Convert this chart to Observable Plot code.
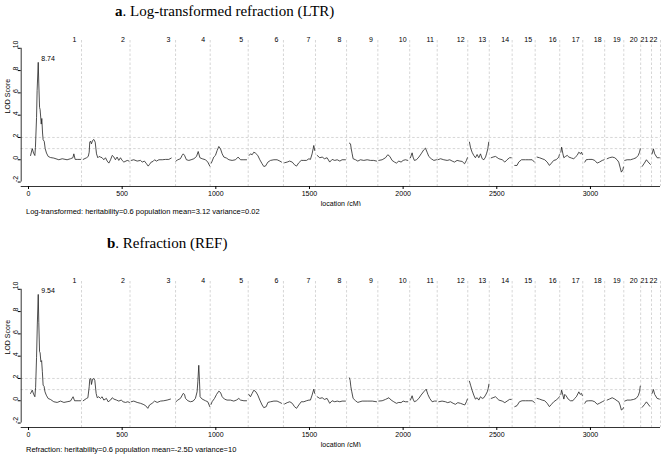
<!DOCTYPE html>
<html><head><meta charset="utf-8">
<script src="https://cdn.jsdelivr.net/npm/d3@7"></script>
<script src="https://cdn.jsdelivr.net/npm/@observablehq/plot@0.6"></script>
<style>
html,body{margin:0;padding:0;background:#fff;}
body{width:665px;height:463px;position:relative;overflow:hidden;font-family:"Liberation Sans",Arial,sans-serif;}
.title{position:absolute;font-family:"Liberation Serif","Times New Roman",serif;font-size:15px;line-height:15px;color:#000;white-space:nowrap;}
.caption{position:absolute;left:26px;font-size:7.5px;line-height:8px;color:#000;white-space:nowrap;}
.panel{position:absolute;left:0;}
.panel svg{display:block;}
</style></head><body>
<div class="title" style="left:115px;top:3.5px"><b>a</b>. Log-transformed refraction (LTR)</div>
<div class="panel" id="pa" style="top:24px"></div>
<div class="caption" style="top:207.7px">Log-transformed: heritability=0.6 population mean=3.12 variance=0.02</div>
<div class="title" style="left:107px;top:235.5px"><b>b</b>. Refraction (REF)</div>
<div class="panel" id="pb" style="top:265px"></div>
<div class="caption" style="top:446px">Refraction: heritability=0.6 population mean=-2.5D variance=10</div>
<script>
const chromosomes = ["1","2","3","4","5","6","7","8","9","10","11","12","13","14","15","16","17","18","19","20","21","22"];
const chromEnds = [283,542,785,970,1173,1361,1532,1698,1865,2035,2182,2345,2460,2582,2705,2836,2959,3076,3178,3268,3326,3374];
const xTicks = [0,500,1000,1500,2000,2500,3000];
const yTicks = [-2,0,2,4,6,8,10];
const thresholds = [1,2];

const ltrLocation = [
 11,20,27,34,37,43,46,52,55,59,62,68,71,75,78,84,89,96,105,117,135,162,180,206,224,237,242,249,263,278,
 292,310,319,324,327,331,336,342,349,356,363,370,377,384,393,402,411,420,429,438,447,456,464,473,482,491,500,509,527,537,
 548,562,580,598,607,619,630,639,646,655,665,673,683,696,714,731,749,762,
 787,797,811,820,826,833,843,856,868,883,897,906,915,927,945,957,968,
 976,989,998,1007,1016,1025,1034,1043,1057,1070,1087,1105,1119,1132,1150,1164,
 1178,1185,1194,1203,1212,1224,1235,1247,1256,1265,1278,1292,1310,1327,1342,1351,
 1367,1381,1394,1408,1420,1431,1443,1456,1470,1484,1497,1505,1514,1523,1528,
 1541,1555,1568,1580,1594,1608,1621,1635,1648,1662,1674,1692,
 1713,1719,1723,1728,1733,1746,1758,1772,1790,1808,1826,1843,1858,
 1870,1888,1906,1918,1929,1941,1954,1964,1977,1989,2000,2012,2025,
 2039,2048,2053,2060,2071,2084,2096,2110,2119,2128,2137,2150,2164,2178,
 2185,2200,2217,2235,2249,2262,2274,2288,2303,2315,2328,2338,2343,
 2354,2360,2368,2377,2386,2395,2404,2413,2422,2431,2440,2445,2452,2457,
 2470,2480,2493,2511,2529,2543,2555,2568,2577,
 2596,2608,2617,2632,2653,2671,2689,2701,
 2715,2728,2742,2756,2769,2781,2792,2804,2817,2831,2834,
 2842,2846,2853,2858,2867,2876,2885,2899,2911,2920,2929,2938,2947,2952,2957,
 2970,2977,2991,3009,3023,3036,3048,3063,3073,
 3089,3101,3116,3130,3142,3151,3158,3165,3173,3176,
 3183,3196,3214,3231,3244,3255,3262,3266,
 3276,3288,3299,3308,3320,
 3329,3336,3343,3356,3368
];
const ltrLod = [
 0.38,1.0,0.6,0.38,1.1,3.8,6.2,8.74,6.8,4.7,4.5,3.2,3.7,2.4,1.8,1.65,1.0,0.6,0.3,0.2,0.15,0,0.09,0,0.09,0.18,0.53,0.03,0.03,0.03,
 0.03,0.18,0.30,0.68,1.58,1.67,1.43,1.73,1.82,1.58,0.53,0.18,0.30,0.24,0.18,0,0.18,-0.12,-0.30,0,0.39,0.24,0,0.24,-0.06,0.18,-0.06,-0.21,-0.06,-0.12,
 -0.06,0,-0.12,-0.06,-0.21,-0.12,-0.36,-0.57,-0.42,-0.21,-0.15,0,-0.12,0,0,0.03,0.03,0.15,
 -0.12,0,0.09,0.39,0.53,0.39,0,-0.06,0,0.09,0.30,0.74,0.18,0.09,0,-0.21,-0.57,
 -0.30,0.24,0.39,0.83,1.19,0.98,0.53,0.24,0.15,0,-0.06,0,0.24,0,0,0,
 0.39,0.53,0.45,0.68,0.59,0.39,0,-0.36,-0.60,-0.57,-0.21,-0.06,0,0,-0.12,-0.21,
 -0.27,-0.21,-0.12,-0.21,-0.45,-0.57,-0.27,-0.06,-0.06,-0.06,0.09,0.03,0.53,1.28,0.83,
 0.39,0.18,0.24,0.09,0.18,-0.21,0.03,-0.06,0,-0.12,0,0,
 1.49,1.43,0.98,0.53,0.09,0,-0.12,0,-0.06,0,-0.06,-0.06,-0.12,
 -0.06,0,0.18,0.45,0.30,-0.06,-0.21,-0.30,-0.12,-0.21,-0.06,0,-0.06,
 0.18,0.62,0.24,-0.06,0,0.24,0.53,0.89,1.04,0.68,0.30,0.09,-0.06,0,
 0,0.09,0,-0.06,0,-0.12,-0.21,-0.06,-0.12,-0.15,-0.36,-0.06,0.18,
 1.58,1.07,0.68,0.39,0.18,0.47,0.18,0.53,0.09,0,0.24,0.53,0.98,1.58,
 0.18,0.24,0.30,0.09,0,-0.21,0,0.18,0.18,
 -0.51,-0.51,-0.21,0,0,0,0,-0.21,
 0.24,0.18,0.09,0,-0.21,-0.51,-0.30,-0.06,0,0.24,0.45,
 0.68,1.13,0.53,0.18,0.30,0.39,0.24,0.15,0.09,0.24,0.39,0.68,0.53,0.68,0.47,
 -0.21,0,0.03,0.03,-0.06,-0.30,-0.21,-0.06,0,
 0.09,0.18,0.24,0.18,0,-0.21,-0.66,-1.11,-0.90,-0.66,
 -0.06,0,0,0.09,0.18,0.39,0.68,0.98,
 -0.6,-0.3,0,-0.2,-0.42,
 0.53,0.98,0.53,0.18,0.18
];

const refLocation = [
 11,20,27,34,38,43,47,52,55,59,62,66,70,74,78,83,88,95,105,117,135,153,171,189,206,224,238,246,269,278,
 292,310,317,324,327,333,336,342,349,354,361,367,375,384,393,402,416,425,438,447,456,470,482,495,505,518,530,539,
 548,562,580,598,612,625,637,646,660,673,687,705,722,740,758,
 787,797,811,826,833,838,851,865,879,891,900,904,909,913,916,927,945,957,968,
 975,980,993,1004,1016,1025,1034,1046,1060,1078,1096,1110,1123,1132,1150,1164,
 1176,1185,1194,1203,1214,1224,1235,1247,1256,1269,1278,1292,1310,1327,1342,1351,
 1367,1381,1395,1408,1420,1431,1443,1456,1470,1484,1497,1505,1514,1523,1528,
 1541,1555,1568,1580,1594,1608,1621,1635,1648,1662,1674,1692,
 1713,1717,1721,1726,1733,1746,1758,1769,1781,1808,1835,1858,
 1870,1888,1906,1924,1936,1950,1964,1977,1989,2000,2012,2025,
 2039,2048,2053,2060,2071,2084,2096,2110,2123,2132,2142,2155,2167,2178,
 2190,2208,2226,2238,2253,2267,2279,2292,2306,2320,2329,2338,2343,
 2354,2360,2368,2377,2386,2395,2404,2413,2422,2431,2440,2449,2454,2458,
 2470,2480,2493,2511,2529,2543,2555,2568,2577,
 2596,2608,2621,2635,2653,2671,2689,2701,
 2715,2728,2742,2756,2769,2781,2792,2804,2817,2831,2834,
 2842,2846,2853,2858,2863,2870,2881,2893,2906,2916,2925,2938,2945,2952,2957,
 2970,2977,2991,3009,3023,3036,3048,3063,3073,
 3089,3101,3116,3130,3142,3151,3158,3165,3173,3176,
 3183,3196,3214,3231,3244,3255,3262,3266,
 3276,3288,3299,3308,3317,
 3329,3336,3343,3356,3368
];
const refLod = [
 0.65,0.95,0.6,0.36,1.2,3.9,6.8,9.54,7.0,4.4,4.3,3.5,3.6,2.6,1.4,1.3,0.8,0.5,0.2,0.12,-0.09,-0.15,-0.03,-0.15,-0.09,-0.03,0.36,0,0,0,
 0,0.21,0.27,1.25,1.93,1.99,1.46,1.93,1.99,1.84,0.66,0.27,0.36,0.21,0.36,0.06,0.21,-0.09,0.06,0.27,0.15,0.06,-0.03,0.06,-0.09,-0.15,-0.09,-0.15,
 -0.09,-0.03,-0.15,-0.23,-0.32,-0.44,-0.68,-0.38,-0.23,-0.03,-0.15,-0.03,0,0.06,0.15,
 -0.09,0.06,0.21,0.66,0.57,0.21,0,-0.09,-0.03,0.21,0.80,1.69,3.18,1.69,0.36,0.15,0,-0.09,-0.53,
 -0.32,-0.09,0.21,0.57,0.86,0.74,0.36,0.15,0.06,0.06,-0.03,0.06,0.21,0.06,0,0,
 0.57,0.36,0.66,0.95,0.80,0.51,0.06,-0.38,-0.62,-0.53,-0.15,-0.09,-0.03,-0.03,-0.15,-0.23,
 -0.29,-0.17,-0.09,-0.23,-0.53,-0.68,-0.38,-0.09,-0.09,0,0.06,0.06,0.51,1.04,0.66,
 0.36,0.21,0.27,0.12,0.21,-0.23,0,-0.09,-0.03,-0.09,-0.03,-0.03,
 2.05,1.84,1.25,0.80,0.21,0,-0.15,-0.09,-0.03,-0.03,-0.03,-0.09,
 -0.03,0,0.12,0.27,0.06,-0.09,-0.23,-0.15,-0.17,-0.03,-0.09,-0.09,
 0.06,0.45,0.15,-0.09,0,0.21,0.51,0.80,1.04,0.57,0.21,-0.09,-0.03,-0.03,
 -0.09,-0.03,-0.09,-0.17,-0.09,-0.23,-0.32,-0.17,-0.23,-0.32,-0.38,-0.09,0.15,
 1.75,1.40,0.95,0.51,0.15,0.27,0.06,0.36,0.21,0.27,0.51,0.80,1.10,1.49,
 0.21,0.27,0.36,0.06,-0.03,-0.17,-0.03,0.12,0.12,
 -0.53,-0.44,-0.09,0,0,0,0,-0.15,
 0.21,0.15,0.06,0,-0.23,-0.53,-0.32,-0.09,0.06,0.27,0.36,
 0.57,0.95,0.51,0.15,0.57,0.45,0.15,0,0,0.21,0.36,0.80,0.57,0.66,0.45,
 -0.23,-0.03,0,0,-0.09,-0.32,-0.23,-0.09,0,
 0.06,0.15,0.27,0.15,0,-0.09,-0.38,-0.83,-0.74,-0.62,
 -0.03,0.06,0.06,0.12,0.21,0.45,0.80,1.31,
 -0.59,-0.35,-0.1,-0.3,-0.5,
 0.66,1.01,0.57,0.21,0.15
];

const xDomain = [-39, 3374];
const yDomain = [-2.4, 10.7];

function panel(locations, lods, target) {
  const data = locations.map((x, i) => ({
    location: x, lod: lods[i],
    chrom: chromosomes[Math.min(d3.bisectLeft(chromEnds, x), chromosomes.length - 1)]
  }));
  const peak = data[d3.maxIndex(data, d => d.lod)];
  const grid = {stroke: "#c4c4c4", strokeWidth: 0.7, strokeDasharray: "2.5,2"};
  const chart = Plot.plot({
    width: 665, height: 182,
    marginLeft: 20.7, marginRight: 5, marginTop: 16, marginBottom: 20,
    style: {fontFamily: "'Liberation Sans', Arial, sans-serif", fontSize: "7px", background: "transparent", color: "#000"},
    x: {domain: xDomain, axis: null},
    y: {domain: yDomain, axis: null},
    marks: [
      Plot.ruleX(chromEnds, grid),
      Plot.ruleY(thresholds, grid),
      Plot.text(chromosomes, {x: (d, i) => chromEnds[i], text: d => d, frameAnchor: "top", dx: -7, dy: -3, fontSize: 7}),
      Plot.ruleY([yDomain[0]], {stroke: "#000", strokeWidth: 0.8}),
      Plot.ruleX([xDomain[0]], {y1: yTicks[0], y2: yTicks[yTicks.length - 1], stroke: "#000", strokeWidth: 0.8}),
      Plot.axisX({ticks: xTicks, tickSize: 3, tickPadding: 2, fontSize: 7, tickFormat: d => String(d),
                  label: "location (cM)", labelAnchor: "center", labelOffset: 19, labelArrow: "none"}),
      Plot.axisY({ticks: yTicks, tickSize: 3, tickFormat: () => "", label: null}),
      Plot.text(yTicks, {y: d => d, text: d => String(d), frameAnchor: "left", dx: -5.5, rotate: -90, fontSize: 7}),
      Plot.text(["LOD Score"], {text: d => d, frameAnchor: "left", dx: -13.5, rotate: -90, fontSize: 7}),
      Plot.line(data, {x: "location", y: "lod", z: "chrom", stroke: "#222", strokeWidth: 0.8}),
      Plot.text([peak], {x: "location", y: "lod", text: d => d.lod.toFixed(2), dx: 9.8, dy: -4, fontSize: 7})
    ]
  });
  document.getElementById(target).appendChild(chart);
}
panel(ltrLocation, ltrLod, "pa");
panel(refLocation, refLod, "pb");
</script>
</body></html>
